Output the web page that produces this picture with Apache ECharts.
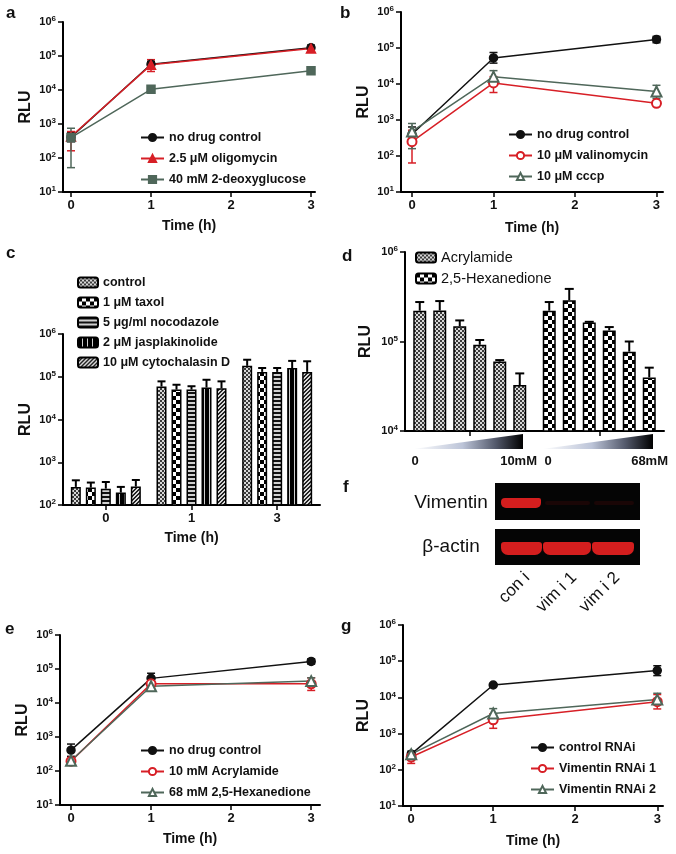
<!DOCTYPE html>
<html><head><meta charset="utf-8">
<script src="https://cdn.jsdelivr.net/npm/echarts@6/dist/echarts.min.js"></script>
<style>html,body{margin:0;padding:0;background:#fff}#c{width:676px;height:854px}</style>
</head><body><div id="c"></div>
<script>
const F = 'Liberation Sans, Arial, Helvetica, sans-serif';
const RED = '#d71f26', GREEN = '#4f675a', BLACK = '#111111';

// ---------------- DATA ----------------
const timePoints = [0, 1, 3];
const timeTicks = [0, 1, 2, 3];

// a
const aControl = [410, 57000, 175000];
const aControlLo = [300, 45000, 140000];
const aControlHi = [560, 70000, 210000];
const aOligo = [430, 55000, 165000];
const aOligoLo = [163, 35000, 135000];
const aOligoHi = [600, 78000, 200000];
const aDG = [400, 10500, 36600];
const aDGLo = [52, 9500, 33000];
const aDGHi = [750, 11500, 40000];

// b
const bControl = [400, 53000, 173000];
const bControlLo = [290, 38000, 140000];
const bControlHi = [640, 75000, 210000];
const bValino = [250, 10700, 2900];
const bValinoLo = [64, 5800, 2600];
const bValinoHi = [520, 16000, 3300];
const bCCCP = [480, 16000, 6200];
const bCCCPLo = [160, 10000, 4000];
const bCCCPHi = [800, 23500, 9200];

// c
const cCategories = ['0', '1', '3'];
const cNames = ['control', '1 \u03bcM taxol', '5 \u03bcg/ml nocodazole', '2 \u03bcM jasplakinolide', '10 \u03bcM cytochalasin D'];
const cControl = [265, 59000, 180000];
const cControlHi = [378, 78000, 250000];
const cTaxol = [255, 50000, 130000];
const cTaxolHi = [335, 65000, 160000];
const cNoco = [241, 50000, 130000];
const cNocoHi = [345, 60000, 160000];
const cJasp = [195, 56000, 160000];
const cJaspHi = [265, 85000, 235000];
const cCyto = [270, 54000, 130000];
const cCytoHi = [385, 78000, 230000];

// d
const dGroups = ['Acrylamide', '2,5-Hexanedione'];
const dAcryl = [221000, 222000, 148000, 92000, 59600, 32600];
const dAcrylHi = [276000, 283000, 172000, 104000, 62000, 44000];
const dHexa = [221000, 289000, 163000, 133000, 77000, 39700];
const dHexaHi = [276000, 387000, 166000, 145000, 100000, 51000];

// e
const eControl = [410, 53000, 167000];
const eControlLo = [270, 40000, 140000];
const eControlHi = [620, 75000, 200000];
const eAcryl = [195, 36700, 36700];
const eAcrylLo = [165, 30000, 23400];
const eAcrylHi = [230, 44000, 55000];
const eHexa = [200, 31000, 44000];
const eHexaLo = [170, 27000, 35000];
const eHexaHi = [235, 36000, 55000];

// g
const gControl = [270, 22000, 55000];
const gControlLo = [230, 20000, 40000];
const gControlHi = [310, 24000, 75000];
const gVim1 = [225, 2400, 7600];
const gVim1Lo = [150, 1400, 4800];
const gVim1Hi = [300, 3500, 12000];
const gVim2 = [270, 3600, 8700];
const gVim2Lo = [200, 2700, 6500];
const gVim2Hi = [330, 4900, 13000];

// ---------------- PATTERNS ----------------
function makePattern(w, h, draw) {
  const c = document.createElement('canvas'); c.width = w; c.height = h;
  const ctx = c.getContext('2d'); draw(ctx); return { image: c, repeat: 'repeat' };
}
const patFine = makePattern(4, 4, ctx => { ctx.fillStyle = '#d8d8d8'; ctx.fillRect(0,0,4,4); ctx.fillStyle = '#3a3a3a'; ctx.fillRect(0,0,2,2); ctx.fillRect(2,2,2,2); });
const patChecker = makePattern(8, 8, ctx => { ctx.fillStyle = '#fff'; ctx.fillRect(0,0,8,8); ctx.fillStyle = '#000'; ctx.fillRect(0,0,4,4); ctx.fillRect(4,4,4,4); });
const patHoriz = makePattern(4, 4, ctx => { ctx.fillStyle = '#d0d0d0'; ctx.fillRect(0,0,4,4); ctx.fillStyle = '#111'; ctx.fillRect(0,0,4,2); });
const patVert = makePattern(5, 5, ctx => { ctx.fillStyle = '#000'; ctx.fillRect(0,0,5,5); ctx.fillStyle = '#cfcfcf'; ctx.fillRect(4,0,1,5); });
const patDiag = makePattern(4, 4, ctx => { ctx.fillStyle = '#d8d8d8'; ctx.fillRect(0,0,4,4); ctx.fillStyle = '#222';
  ctx.fillRect(3,0,1,1); ctx.fillRect(2,1,1,1); ctx.fillRect(1,2,1,1); ctx.fillRect(0,3,1,1);
  ctx.fillRect(0,0,1,1); ctx.fillRect(3,1,1,1); ctx.fillRect(2,2,1,1); ctx.fillRect(1,3,1,1); });
const cPatterns = [patFine, patChecker, patHoriz, patVert, patDiag];

// ---------------- HELPERS ----------------
const axisLine = { show: true, onZero: false, lineStyle: { color: '#000', width: 2 } };
const axisTick = { show: true, length: 5, lineStyle: { color: '#000', width: 1.5 } };
const supRich = {
  b: { fontSize: 11, fontWeight: 'bold', fontFamily: F, color: '#111' },
  s: { fontSize: 8, fontWeight: 'bold', fontFamily: F, color: '#111', verticalAlign: 'bottom', padding: [0, 0, 6, 0] }
};
function supFmt(v) { return '{b|10}{s|' + Math.round(Math.log10(v)) + '}'; }

const grids = [], xAxes = [], yAxes = [], series = [], legends = [];

function logY(grid, min, max, nameGap) {
  return { type: 'log', logBase: 10, gridIndex: grid, min, max, axisLine, axisTick,
    splitLine: { show: false }, minorTick: { show: false },
    axisLabel: { formatter: supFmt, rich: supRich, margin: 7 },
    name: 'RLU', nameLocation: 'middle', nameGap, nameRotate: 90,
    nameTextStyle: { fontSize: 16, fontWeight: 'bold', fontFamily: F, color: '#111' } };
}
function timeX(grid, min, max, nameGap) {
  return { type: 'value', gridIndex: grid, min, max, axisLine, splitLine: { show: false },
    axisTick: Object.assign({ customValues: timeTicks }, axisTick),
    axisLabel: { customValues: timeTicks, fontSize: 13, fontWeight: 'bold', fontFamily: F, color: '#111', margin: 7 },
    name: 'Time (h)', nameLocation: 'middle', nameGap,
    nameTextStyle: { fontSize: 14, fontWeight: 'bold', fontFamily: F, color: '#111' } };
}
function errRender(color, capW) {
  return function (params, api) {
    const x = api.value(0), lo = api.value(1), hi = api.value(2);
    const a = api.coord([x, lo]), b = api.coord([x, hi]);
    const style = { stroke: color, lineWidth: 1.5 };
    return { type: 'group', children: [
      { type: 'line', shape: { x1: a[0], y1: a[1], x2: b[0], y2: b[1] }, style },
      { type: 'line', shape: { x1: a[0] - capW / 2, y1: a[1], x2: a[0] + capW / 2, y2: a[1] }, style },
      { type: 'line', shape: { x1: b[0] - capW / 2, y1: b[1], x2: b[0] + capW / 2, y2: b[1] }, style }
    ] };
  };
}
function addLine(grid, prefix, name, vals, lo, hi, color, symbol, size) {
  series.push({ type: 'custom', name: prefix + '|' + name + '#err', xAxisIndex: grid, yAxisIndex: grid,
    renderItem: errRender(color, 8), data: timePoints.map((t, i) => [t, lo[i], hi[i]]),
    encode: { x: 0, y: [1, 2] }, z: 2, silent: true });
  series.push({ type: 'line', name: prefix + '|' + name, xAxisIndex: grid, yAxisIndex: grid,
    data: timePoints.map((t, i) => [t, vals[i]]), symbol, symbolSize: size,
    lineStyle: { color, width: 1.5 }, itemStyle: { color, borderColor: color, borderWidth: 1.5 },
    emphasis: { disabled: true }, z: 3 });
}
function addLegend(prefix, names, left, top, opts) {
  legends.push(Object.assign({ orient: 'vertical', left, top, padding: 0, itemWidth: 23, itemHeight: 9, itemGap: 8,
    selectedMode: false, data: names.map(n => prefix + '|' + n),
    formatter: n => n.split('|')[1],
    textStyle: { fontSize: 12.5, fontWeight: 'bold', fontFamily: F, color: '#111', padding: [0, 0, 0, 0] } }, opts || {}));
}

// ---------------- PANEL a (grid 0) ----------------
grids.push({ left: 63, top: 22, width: 252, height: 170 });
xAxes.push(timeX(0, -0.1, 3.05, 27));
yAxes.push(logY(0, 10, 1e6, 29));
addLine(0, 'a', 'no drug control', aControl, aControlLo, aControlHi, BLACK, 'circle', 8);
addLine(0, 'a', '2.5 \u03bcM oligomycin', aOligo, aOligoLo, aOligoHi, RED, 'triangle', 9);
addLine(0, 'a', '40 mM 2-deoxyglucose', aDG, aDGLo, aDGHi, GREEN, 'rect', 8);
addLegend('a', ['no drug control', '2.5 \u03bcM oligomycin', '40 mM 2-deoxyglucose'], 140, 131);

// ---------------- PANEL b (grid 1) ----------------
grids.push({ left: 401, top: 12, width: 262, height: 180 });
xAxes.push(timeX(1, -0.135, 3.08, 29));
yAxes.push(logY(1, 10, 1e6, 29));
addLine(1, 'b', 'no drug control', bControl, bControlLo, bControlHi, BLACK, 'circle', 8);
addLine(1, 'b', '10 \u03bcM valinomycin', bValino, bValinoLo, bValinoHi, RED, 'emptyCircle', 9);
addLine(1, 'b', '10 \u03bcM cccp', bCCCP, bCCCPLo, bCCCPHi, GREEN, 'emptyTriangle', 10);
addLegend('b', ['no drug control', '10 \u03bcM valinomycin', '10 \u03bcM cccp'], 508, 128);

// ---------------- PANEL c (grid 2) ----------------
const C_BW = 10, C_GAP = 5;
grids.push({ left: 63, top: 334, width: 257, height: 171 });
xAxes.push({ type: 'category', gridIndex: 2, data: cCategories, axisLine,
  axisTick: Object.assign({ alignWithLabel: true }, axisTick),
  axisLabel: { fontSize: 13, fontWeight: 'bold', fontFamily: F, color: '#111', margin: 7 },
  name: 'Time (h)', nameLocation: 'middle', nameGap: 26,
  nameTextStyle: { fontSize: 14, fontWeight: 'bold', fontFamily: F, color: '#111' } });
yAxes.push(logY(2, 100, 1e6, 29));
const cVals = [cControl, cTaxol, cNoco, cJasp, cCyto];
const cHis = [cControlHi, cTaxolHi, cNocoHi, cJaspHi, cCytoHi];
cVals.forEach((vals, s) => {
  series.push({ type: 'bar', name: 'c|' + cNames[s], xAxisIndex: 2, yAxisIndex: 2, data: vals,
    barWidth: C_BW, barGap: (C_GAP / C_BW * 100) + '%', clip: true,
    itemStyle: { color: cPatterns[s], borderColor: '#000', borderWidth: 1.5 }, emphasis: { disabled: true } });
});
function barErrRender(n, bw, gap, capW) {
  return function (params, api) {
    const ci = api.value(0), s = api.value(1), v = api.value(2), hi = api.value(3);
    const off = (s - (n - 1) / 2) * (bw + gap);
    const a = api.coord([ci, v]), b = api.coord([ci, hi]);
    const x = a[0] + off;
    const style = { stroke: '#000', lineWidth: 2 };
    return { type: 'group', children: [
      { type: 'line', shape: { x1: x, y1: a[1], x2: x, y2: b[1] }, style },
      { type: 'line', shape: { x1: x - capW / 2, y1: b[1], x2: x + capW / 2, y2: b[1] }, style }
    ] };
  };
}
const cErrData = [];
cVals.forEach((vals, s) => vals.forEach((v, i) => cErrData.push([i, s, v, cHis[s][i]])));
series.push({ type: 'custom', name: 'c#err', xAxisIndex: 2, yAxisIndex: 2, renderItem: barErrRender(5, C_BW, C_GAP, 8),
  data: cErrData, encode: { x: 0, y: [2, 3] }, z: 3, silent: true });
addLegend('c', cNames, 77, 276, { itemWidth: 20, itemHeight: 10, itemGap: 7 });

// ---------------- PANEL d (grid 3) ----------------
const D_BW = 13, D_GAP = 7;
grids.push({ left: 405, top: 252, width: 259, height: 179 });
xAxes.push({ type: 'category', gridIndex: 3, data: dGroups, axisLine,
  axisTick: Object.assign({ alignWithLabel: true }, axisTick), axisLabel: { show: false } });
yAxes.push(logY(3, 1e4, 1e6, 31));
const dPatterns = [patFine, patChecker];
dAcryl.forEach((v, k) => {
  series.push({ type: 'bar', name: 'd|dose' + k, xAxisIndex: 3, yAxisIndex: 3,
    data: [{ value: dAcryl[k], itemStyle: { color: dPatterns[0] } }, { value: dHexa[k], itemStyle: { color: dPatterns[1] } }],
    barWidth: D_BW, barGap: (D_GAP / D_BW * 100) + '%', clip: true,
    itemStyle: { borderColor: '#000', borderWidth: 1.5 }, emphasis: { disabled: true } });
});
const dErrData = [];
dAcryl.forEach((v, k) => { dErrData.push([0, k, dAcryl[k], dAcrylHi[k]]); dErrData.push([1, k, dHexa[k], dHexaHi[k]]); });
series.push({ type: 'custom', name: 'd#err', xAxisIndex: 3, yAxisIndex: 3, renderItem: barErrRender(6, D_BW, D_GAP, 9),
  data: dErrData, encode: { x: 0, y: [2, 3] }, z: 3, silent: true });

// ---------------- PANEL e (grid 4) ----------------
grids.push({ left: 60, top: 635, width: 260, height: 170 });
xAxes.push(timeX(4, -0.1375, 3.11, 27));
yAxes.push(logY(4, 10, 1e6, 29));
addLine(4, 'e', 'no drug control', eControl, eControlLo, eControlHi, BLACK, 'circle', 8);
addLine(4, 'e', '10 mM Acrylamide', eAcryl, eAcrylLo, eAcrylHi, RED, 'emptyCircle', 9);
addLine(4, 'e', '68 mM 2,5-Hexanedione', eHexa, eHexaLo, eHexaHi, GREEN, 'emptyTriangle', 10);
addLegend('e', ['no drug control', '10 mM Acrylamide', '68 mM 2,5-Hexanedione'], 140, 744);

// ---------------- PANEL g (grid 5) ----------------
grids.push({ left: 403, top: 625, width: 260, height: 181 });
xAxes.push(timeX(5, -0.1, 3.07, 28));
yAxes.push(logY(5, 10, 1e6, 31));
addLine(5, 'g', 'control RNAi', gControl, gControlLo, gControlHi, BLACK, 'circle', 8);
addLine(5, 'g', 'Vimentin RNAi 1', gVim1, gVim1Lo, gVim1Hi, RED, 'emptyCircle', 9);
addLine(5, 'g', 'Vimentin RNAi 2', gVim2, gVim2Lo, gVim2Hi, GREEN, 'emptyTriangle', 10);
addLegend('g', ['control RNAi', 'Vimentin RNAi 1', 'Vimentin RNAi 2'], 530, 741);

// ---------------- hidden grid for d legend ----------------
grids.push({ left: -200, top: -200, width: 10, height: 10, show: false });
xAxes.push({ type: 'category', gridIndex: 6, show: false, data: ['x'] });
yAxes.push({ type: 'value', gridIndex: 6, show: false });
dGroups.forEach((g, i) => series.push({ type: 'bar', name: 'd|' + g, xAxisIndex: 6, yAxisIndex: 6, data: [],
  itemStyle: { color: dPatterns[i], borderColor: '#000', borderWidth: 1.5 } }));
addLegend('d', dGroups, 415, 250, { itemWidth: 20, itemHeight: 10, itemGap: 6, textStyle: { fontSize: 14.5, fontFamily: F, color: '#111' } });

// ---------------- GRAPHICS (letters, d wedges, blot) ----------------
const letterStyle = (t) => ({ text: t, fontSize: 17, fontWeight: 'bold', fontFamily: F, fill: '#111', verticalAlign: 'middle' });
const wedgeFill = { type: 'linear', x: 0, y: 0, x2: 1, y2: 0, colorStops: [
  { offset: 0, color: '#ffffff' }, { offset: 0.45, color: '#bcc4d8' }, { offset: 0.75, color: '#545a6c' }, { offset: 1, color: '#000000' }] };
const lblBold = { fontSize: 13, fontWeight: 'bold', fontFamily: F, fill: '#111', verticalAlign: 'middle' };
const BLOT_RED = '#d41e1e';
const graphic = [
  { type: 'text', left: 6, top: 5, style: letterStyle('a') },
  { type: 'text', x: 340, y: 13, style: letterStyle('b') },
  { type: 'text', x: 6, y: 253, style: letterStyle('c') },
  { type: 'text', x: 342, y: 256, style: letterStyle('d') },
  { type: 'text', x: 5, y: 629, style: letterStyle('e') },
  { type: 'text', x: 343, y: 487, style: letterStyle('f') },
  { type: 'text', x: 341, y: 626, style: letterStyle('g') },
  // d dose wedges
  { type: 'polygon', shape: { points: [[413, 449], [523, 434], [523, 449]] }, style: { fill: wedgeFill } },
  { type: 'polygon', shape: { points: [[542, 449], [653, 434], [653, 449]] }, style: { fill: wedgeFill } },
  { type: 'text', x: 415, y: 461, style: Object.assign({ text: '0', align: 'center' }, lblBold) },
  { type: 'text', x: 537, y: 461, style: Object.assign({ text: '10mM', align: 'right' }, lblBold) },
  { type: 'text', x: 548, y: 461, style: Object.assign({ text: '0', align: 'center' }, lblBold) },
  { type: 'text', x: 668, y: 461, style: Object.assign({ text: '68mM', align: 'right' }, lblBold) },
  // f blot
  { type: 'rect', shape: { x: 495, y: 483, width: 145, height: 37 }, style: { fill: '#050505' } },
  { type: 'rect', shape: { x: 495, y: 529, width: 145, height: 36 }, style: { fill: '#050505' } },
  { type: 'rect', shape: { x: 501, y: 498, width: 40, height: 10, r: [4, 2, 5, 5] }, style: { fill: BLOT_RED } },
  { type: 'rect', shape: { x: 545, y: 501, width: 45, height: 4, r: 2 }, style: { fill: '#1a0606' } },
  { type: 'rect', shape: { x: 594, y: 501, width: 40, height: 4, r: 2 }, style: { fill: '#1a0606' } },
  { type: 'rect', shape: { x: 501, y: 542, width: 41, height: 13, r: [3, 3, 7, 7] }, style: { fill: BLOT_RED } },
  { type: 'rect', shape: { x: 543, y: 542, width: 48, height: 13, r: [3, 3, 7, 7] }, style: { fill: BLOT_RED } },
  { type: 'rect', shape: { x: 592, y: 542, width: 42, height: 13, r: [3, 3, 7, 7] }, style: { fill: BLOT_RED } },
  { type: 'text', x: 451, y: 503, style: { text: 'Vimentin', fontSize: 19, fontFamily: F, fill: '#111', align: 'center', verticalAlign: 'middle' } },
  { type: 'text', x: 451, y: 547, style: { text: '\u03b2-actin', fontSize: 19, fontFamily: F, fill: '#111', align: 'center', verticalAlign: 'middle' } },
  { type: 'text', x: 527, y: 575, rotation: Math.PI / 4, style: { text: 'con i', fontSize: 17, fontFamily: F, fill: '#111', align: 'right', verticalAlign: 'middle' } },
  { type: 'text', x: 574, y: 575, rotation: Math.PI / 4, style: { text: 'vim i 1', fontSize: 17, fontFamily: F, fill: '#111', align: 'right', verticalAlign: 'middle' } },
  { type: 'text', x: 617, y: 575, rotation: Math.PI / 4, style: { text: 'vim i 2', fontSize: 17, fontFamily: F, fill: '#111', align: 'right', verticalAlign: 'middle' } }
];

const chart = echarts.init(document.getElementById('c'), null, { renderer: 'canvas' });
chart.setOption({
  backgroundColor: '#ffffff', animation: false,
  textStyle: { fontFamily: F },
  grid: grids, xAxis: xAxes, yAxis: yAxes, series, legend: legends, graphic
});
</script></body></html>
